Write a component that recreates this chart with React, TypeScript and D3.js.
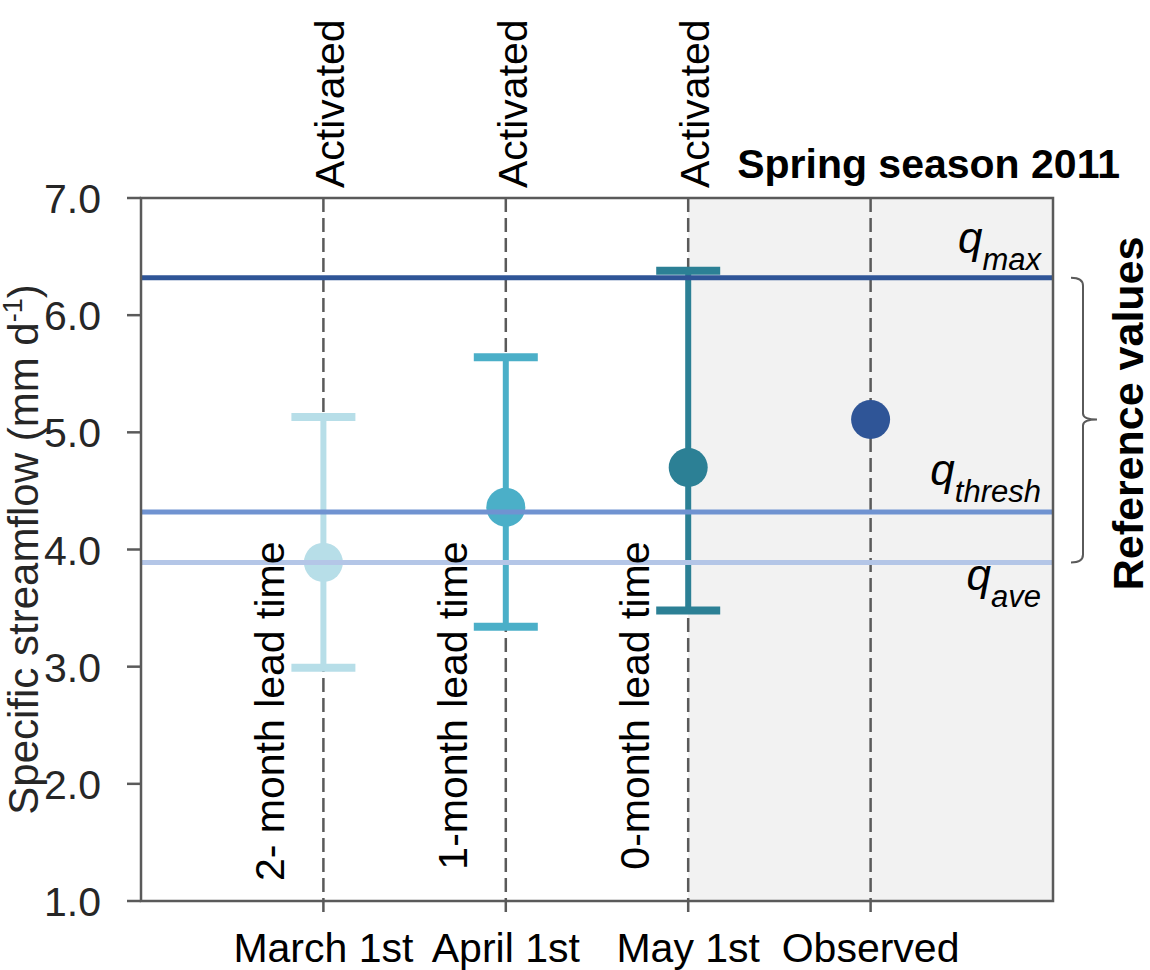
import * as d3 from "d3";
import React, { useEffect, useRef } from "react";

// forecast dates + observation
const categories = ["March 1st", "April 1st", "May 1st", "Observed"];
const centers = [3.89, 4.36, 4.7, 5.11];
const lowers = [2.99, 3.34, 3.48, NaN];
const uppers = [5.13, 5.64, 6.38, NaN];
const markColors = ["#b7dee8", "#4bafc8", "#2c8095", "#2f5597"];
const topLabels = ["Activated", "Activated", "Activated", ""];
const leadLabels = ["2- month lead time", "1-month lead time", "0-month lead time", ""];

// reference values
const refNames = ["max", "thresh", "ave"];
const refValues = [6.32, 4.32, 3.89];
const refColors = ["#2f5597", "#7093d1", "#b4c6e7"];

const yTicks = [1, 2, 3, 4, 5, 6, 7];

const FONT = "'Liberation Sans', Arial, Helvetica, sans-serif";

const App: React.FC = () => {
  const svgRef = useRef<SVGSVGElement | null>(null);

  useEffect(() => {
    if (!svgRef.current) return;
    const svg = d3.select(svgRef.current);
    svg.selectAll("*").remove();

    const width = 1150;
    const height = 970;
    const margin = { top: 198, right: 97, bottom: 69, left: 141 };
    const x0 = margin.left;
    const x1 = width - margin.right;
    const y0 = height - margin.bottom;
    const y1 = margin.top;

    const x = d3.scalePoint<string>().domain(categories).range([x0, x1]).padding(1);
    const y = d3.scaleLinear().domain([1, 7]).range([y0, y1]);

    const g = svg.append("g").attr("font-family", FONT);

    // shaded season area
    g.append("rect")
      .attr("x", x("May 1st")!)
      .attr("y", y1)
      .attr("width", x1 - x("May 1st")!)
      .attr("height", y0 - y1)
      .attr("fill", "#f2f2f2");

    // dashed verticals
    g.selectAll(".vdash")
      .data(categories)
      .enter()
      .append("line")
      .attr("x1", (d) => x(d)!)
      .attr("x2", (d) => x(d)!)
      .attr("y1", y1)
      .attr("y2", y0 + 15)
      .attr("stroke", "#5a5a5a")
      .attr("stroke-width", 2.5)
      .attr("stroke-dasharray", "14,6");

    // error bars
    const bars = categories.map((c, i) => ({ c, lo: lowers[i], hi: uppers[i], col: markColors[i] })).filter((d) => !isNaN(d.lo));
    g.selectAll(".ebar")
      .data(bars)
      .enter()
      .append("line")
      .attr("x1", (d) => x(d.c)!)
      .attr("x2", (d) => x(d.c)!)
      .attr("y1", (d) => y(d.lo))
      .attr("y2", (d) => y(d.hi))
      .attr("stroke", (d) => d.col)
      .attr("stroke-width", 6);
    bars.forEach((d) => {
      [d.lo, d.hi].forEach((v) => {
        g.append("line")
          .attr("x1", x(d.c)! - 32)
          .attr("x2", x(d.c)! + 32)
          .attr("y1", y(v))
          .attr("y2", y(v))
          .attr("stroke", d.col)
          .attr("stroke-width", 8);
      });
    });

    // points
    g.selectAll(".pt")
      .data(categories)
      .enter()
      .append("circle")
      .attr("cx", (d) => x(d)!)
      .attr("cy", (d, i) => y(centers[i]))
      .attr("r", 19.5)
      .attr("fill", (d, i) => markColors[i]);

    // reference lines
    g.selectAll(".ref")
      .data(refValues)
      .enter()
      .append("line")
      .attr("x1", x0)
      .attr("x2", x1)
      .attr("y1", (d) => y(d))
      .attr("y2", (d) => y(d))
      .attr("stroke", (d, i) => refColors[i])
      .attr("stroke-width", 5);

    // q labels
    const qOffset = [-8, -10, 45];
    refValues.forEach((v, i) => {
      const t = g.append("text")
        .attr("x", x1 - 12)
        .attr("y", y(v) + qOffset[i] - 17)
        .attr("text-anchor", "end")
        .attr("font-style", "italic")
        .attr("fill", "#000");
      t.append("tspan").attr("font-size", 44).text("q");
      t.append("tspan").attr("font-size", 31).attr("dy", 17).text(refNames[i]);
    });

    // frame
    g.append("rect")
      .attr("x", x0)
      .attr("y", y1)
      .attr("width", x1 - x0)
      .attr("height", y0 - y1)
      .attr("fill", "none")
      .attr("stroke", "#5a5a5a")
      .attr("stroke-width", 2.5);

    // y ticks
    g.selectAll(".ytick")
      .data(yTicks)
      .enter()
      .append("line")
      .attr("x1", x0 - 14)
      .attr("x2", x0)
      .attr("y1", (d) => y(d))
      .attr("y2", (d) => y(d))
      .attr("stroke", "#5a5a5a")
      .attr("stroke-width", 2.5);

    g.selectAll(".ylab")
      .data(yTicks)
      .enter()
      .append("text")
      .attr("x", x0 - 40)
      .attr("y", (d) => y(d) + 15)
      .attr("text-anchor", "end")
      .attr("font-size", 41)
      .attr("fill", "#262626")
      .text((d) => d3.format(".1f")(d));

    // x labels
    g.selectAll(".xlab")
      .data(categories)
      .enter()
      .append("text")
      .attr("x", (d) => x(d)!)
      .attr("y", height - 8)
      .attr("text-anchor", "middle")
      .attr("font-size", 41)
      .attr("fill", "#000")
      .text((d) => d);

    // "Activated" above, lead times inside
    categories.forEach((c, i) => {
      if (!topLabels[i]) return;
      g.append("text")
        .attr("transform", `translate(${x(c)! + 21},${y1 - 10}) rotate(-90)`)
        .attr("font-size", 41)
        .attr("fill", "#000")
        .text(topLabels[i]);
      g.append("text")
        .attr("transform", `translate(${x(c)! - 39},${y(4) - 8}) rotate(-90)`)
        .attr("text-anchor", "end")
        .attr("font-size", 41)
        .attr("fill", "#000")
        .text(leadLabels[i]);
    });

    // y title
    const yt = g.append("text")
      .attr("transform", `translate(38,${(y0 + y1) / 2}) rotate(-90)`)
      .attr("text-anchor", "middle")
      .attr("font-size", 42)
      .attr("fill", "#262626");
    yt.append("tspan").text("Specific streamflow (mm d");
    yt.append("tspan").attr("font-size", 27).attr("dy", -16).text("-1");
    yt.append("tspan").attr("dy", 16).text(")");

    // season title
    g.append("text")
      .attr("x", 1120)
      .attr("y", y1 - 20)
      .attr("text-anchor", "end")
      .attr("font-size", 41)
      .attr("font-weight", "bold")
      .attr("fill", "#000")
      .text("Spring season 2011");

    // brace around reference values
    const bx = x1 + 30;
    const bTop = y(refValues[0]);
    const bBot = y(refValues[2]);
    const bMid = y(centers[3]);
    const brace = d3.path();
    brace.moveTo(bx - 12, bTop);
    brace.quadraticCurveTo(bx, bTop, bx, bTop + 8);
    brace.lineTo(bx, bMid - 6);
    brace.quadraticCurveTo(bx, bMid, bx + 14, bMid);
    brace.quadraticCurveTo(bx, bMid, bx, bMid + 6);
    brace.lineTo(bx, bBot - 8);
    brace.quadraticCurveTo(bx, bBot, bx - 12, bBot);
    g.append("path")
      .attr("d", brace.toString())
      .attr("fill", "none")
      .attr("stroke", "#5a5a5a")
      .attr("stroke-width", 2);

    g.append("text")
      .attr("transform", `translate(1143,${bMid - 6}) rotate(-90)`)
      .attr("text-anchor", "middle")
      .attr("font-size", 43)
      .attr("font-weight", "bold")
      .attr("fill", "#000")
      .text("Reference values");
  }, []);

  return (
    <div>
      <style>{`body{margin:0}`}</style>
      <svg ref={svgRef} width={1150} height={970} style={{ display: "block" }}></svg>
    </div>
  );
};

export default App;
